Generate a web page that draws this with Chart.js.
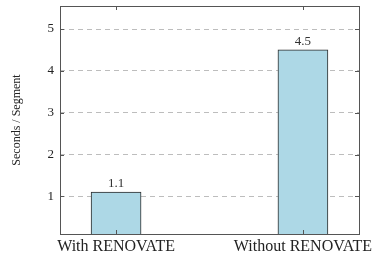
<!DOCTYPE html>
<html>
<head>
<meta charset="utf-8">
<script src="https://cdn.jsdelivr.net/npm/chart.js@4/dist/chart.umd.min.js"></script>
<style>
  html, body { margin: 0; padding: 0; background: #fff; }
  #wrap { width: 376px; height: 259px; }
</style>
</head>
<body>
<div id="wrap"><canvas id="chart" width="376" height="259"></canvas></div>
<script>
// ---- data ----
const categories = ["With RENOVATE", "Without RENOVATE"];
const secondsPerSegment = [1.1, 4.5];
const yTicks = [1, 2, 3, 4, 5];

const FONT = "'Liberation Serif', 'DejaVu Serif', serif";
const INK = "#333";

// value labels above each bar
const valueLabels = {
  id: "valueLabels",
  afterDatasetsDraw(chart) {
    const ctx = chart.ctx;
    const meta = chart.getDatasetMeta(0);
    ctx.save();
    ctx.font = "13px " + FONT;
    ctx.fillStyle = INK;
    ctx.textAlign = "center";
    ctx.textBaseline = "bottom";
    meta.data.forEach((bar, i) => {
      ctx.fillText(secondsPerSegment[i].toFixed(1), bar.x, bar.y - 2);
    });
    ctx.restore();
  }
};

// pgfplots style frame with inward ticks
const frame = {
  id: "frame",
  afterDraw(chart) {
    const { ctx, chartArea: a, scales } = chart;
    ctx.save();
    ctx.strokeStyle = "#555";
    ctx.lineWidth = 1;
    ctx.strokeRect(Math.round(a.left) + 0.5, Math.round(a.top) + 0.5,
      Math.round(a.right - a.left), Math.round(a.bottom - a.top));
    ctx.beginPath();
    yTicks.forEach(v => {
      const y = Math.round(scales.y.getPixelForValue(v)) + 0.5;
      ctx.moveTo(a.left, y); ctx.lineTo(a.left + 4, y);
      ctx.moveTo(a.right, y); ctx.lineTo(a.right - 4, y);
    });
    categories.forEach((c, i) => {
      const x = Math.round(scales.x.getPixelForValue(i)) + 0.5;
      ctx.moveTo(x, a.top); ctx.lineTo(x, a.top + 4);
      ctx.moveTo(x, a.bottom); ctx.lineTo(x, a.bottom - 4);
    });
    ctx.stroke();
    ctx.restore();
  }
};

new Chart(document.getElementById("chart"), {
  type: "bar",
  data: {
    datasets: [{
      data: secondsPerSegment.map((v, i) => ({ x: i, y: v })),
      backgroundColor: "#ADD8E6",
      borderColor: "#2b2b2b",
      borderWidth: 1,
      borderSkipped: false,
      barThickness: 50
    }]
  },
  options: {
    responsive: false,
    animation: false,
    layout: { padding: { top: 6, right: 17, left: 0, bottom: 0 } },
    plugins: { legend: { display: false }, tooltip: { enabled: false } },
    scales: {
      x: {
        type: "linear",
        offset: false,
        min: -0.3,
        max: 1.3,
        afterBuildTicks: s => { s.ticks = categories.map((c, i) => ({ value: i })); },
        afterFit: s => { s.height = 25; s.paddingLeft = 0; s.paddingRight = 0; },
        grid: { display: false, drawTicks: false },
        border: { display: false },
        ticks: {
          callback: v => categories[v],
          font: { family: FONT, size: 16 },
          color: "#222",
          padding: 3,
          maxRotation: 0
        }
      },
      y: {
        min: 0.1,
        max: 5.55,
        afterBuildTicks: s => { s.ticks = yTicks.map(v => ({ value: v })); },
        afterFit: s => { s.width = 60; s.paddingTop = 0; s.paddingBottom = 0; },
        grid: { color: "#bdbdbd", lineWidth: 1, drawTicks: false },
        border: { display: false, dash: [5, 4] },
        ticks: {
          font: { family: FONT, size: 13 },
          color: "#222",
          padding: 6
        },
        title: {
          display: true,
          text: "Seconds / Segment",
          font: { family: FONT, size: 12 },
          color: "#222",
          padding: { top: 10, bottom: 10 }
        }
      }
    }
  },
  plugins: [valueLabels, frame]
});
</script>
</body>
</html>
